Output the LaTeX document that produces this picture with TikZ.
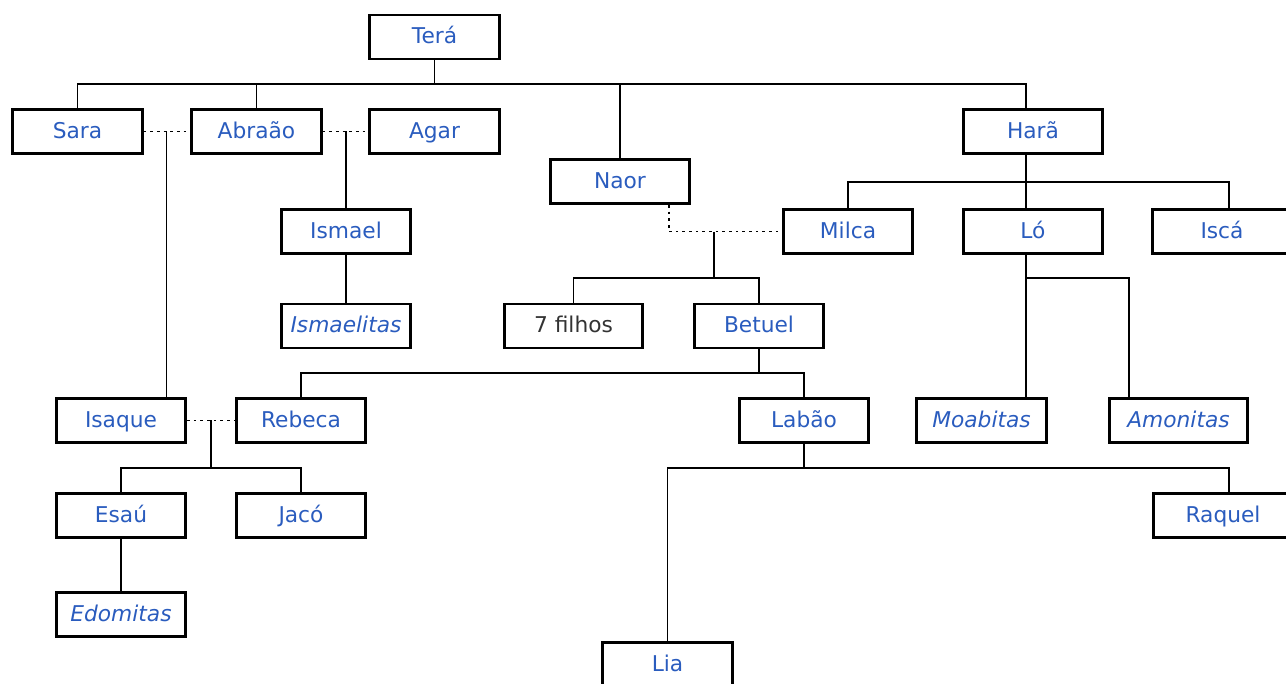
\documentclass[tikz,border=0pt]{standalone}
\usepackage{fontspec}
\setmainfont{DejaVu Sans}
\usepackage{tikz}
\definecolor{nameblue}{RGB}{42,92,190}
\definecolor{plaingray}{RGB}{51,51,51}
\tikzstyle{person} = [rectangle, minimum width=97pt, minimum height=33pt, text height=13.5pt, text depth=3.7pt, text centered, draw=black, line width=2.2pt, text=nameblue, font=\fontsize{16.3pt}{19pt}\selectfont]
\tikzstyle{tribe} = [person, font=\fontsize{16.3pt}{19pt}\selectfont\itshape]
\tikzstyle{wide} = [minimum width=104pt]
\tikzstyle{link} = [line width=1.1pt]
\tikzstyle{marriage} = [line width=1.1pt, dash pattern=on 2pt off 3pt]

\begin{document}
\begin{tikzpicture}[x=0.75pt, y=-0.75pt]
		\clip (0,0) rectangle (1286,684);
		%pessoas
		\node (tera) [person] at (434.5,37) {Terá};
		\node (sara) [person] at (77.5,131.5) {Sara};
		\node (abraao) [person] at (256.5,131.5) {Abraão};
		\node (agar) [person] at (434.5,131.5) {Agar};
		\node (naor) [person, wide] at (620,181.5) {Naor};
		\node (hara) [person, wide] at (1033,131.5) {Harã};
		\node (milca) [person] at (848,231.5) {Milca};
		\node (lo) [person, wide] at (1033,231.5) {Ló};
		\node (isca) [person, wide] at (1222,231.5) {Iscá};
		\node (ismael) [person] at (346,231.5) {Ismael};
		\node (ismaelitas) [tribe] at (346,326) {Ismaelitas};
		\node (filhos) [person, wide, text=plaingray] at (573.5,326) {7 filhos};
		\node (betuel) [person] at (759,326) {Betuel};
		\node (isaque) [person] at (121,420.5) {Isaque};
		\node (rebeca) [person] at (301,420.5) {Rebeca};
		\node (labao) [person] at (804,420.5) {Labão};
		\node (moabitas) [tribe] at (981.5,420.5) {Moabitas};
		\node (amonitas) [tribe, wide] at (1178.5,420.5) {Amonitas};
		\node (esau) [person] at (121,515.5) {Esaú};
		\node (jaco) [person] at (301,515.5) {Jacó};
		\node (raquel) [person, wide] at (1223,515.5) {Raquel};
		\node (edomitas) [tribe] at (121,614.5) {Edomitas};
		\node (lia) [person] at (667.5,664.5) {Lia};
		
		%pontos de junção
		\coordinate (jtera) at (434.5,84);
		\coordinate (jsa) at (166.5,131.5);
		\coordinate (jaa) at (346,131.5);
		\coordinate (jnm) at (714,232);
		\coordinate (jnm2) at (714,278);
		\coordinate (jhara) at (1026,182);
		\coordinate (jlo) at (1026,278);
		\coordinate (jam) at (1129,278);
		\coordinate (jbet) at (759,373);
		\coordinate (jir) at (211,420.5);
		\coordinate (jir2) at (211,468);
		\coordinate (jlab) at (804,468);
		
		%ligações
		\draw [link](tera) -- (jtera);
		\draw [link](sara.north) |- (jtera);
		\draw [link](abraao.north) |- (jtera);
		\draw [link](jtera) -| (naor.north);
		\draw [link](jtera) -| ([xshift=-5.25pt]hara.north);
		
		\draw [marriage](sara) -- (abraao);
		\draw [link](jsa) -- (isaque.north -| jsa);
		\draw [marriage](abraao) -- (agar);
		\draw [link](jaa) -- (ismael);
		\draw [link](ismael) -- (ismaelitas);
		
		\draw [marriage]([xshift=36.75pt]naor.south) |- (milca.west);
		\draw [link](jnm) -- (jnm2);
		\draw [link](filhos.north) |- (jnm2) -| (betuel.north);
		
		\draw [link]([xshift=-5.25pt]hara.south) -- ([xshift=-5.25pt]lo.north);
		\draw [link](milca.north) |- (jhara) -| ([xshift=5.25pt]isca.north);
		\draw [link]([xshift=-5.25pt]lo.south) -- (moabitas.north -| jlo);
		\draw [link](jlo) -- (jam) -- (amonitas.north -| jam);
		
		\draw [link](betuel) -- (jbet);
		\draw [link](rebeca.north) |- (jbet) -| (labao.north);
		
		\draw [marriage](isaque) -- (rebeca);
		\draw [link](jir) -- (jir2);
		\draw [link](esau.north) |- (jir2) -| (jaco.north);
		\draw [link](esau) -- (edomitas);
		
		\draw [link](labao) -- (jlab);
		\draw [link](lia.north) |- (jlab) -| ([xshift=4.5pt]raquel.north);
		
	\end{tikzpicture}
\end{document}
